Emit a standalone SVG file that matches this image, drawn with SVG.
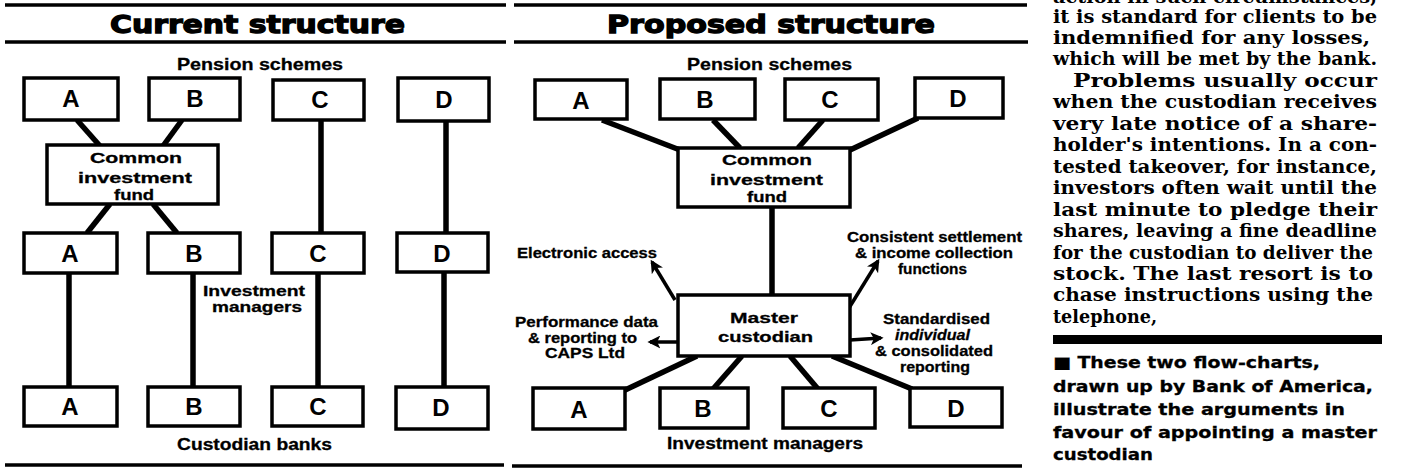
<svg xmlns="http://www.w3.org/2000/svg" width="1409" height="472" viewBox="0 0 1409 472">
<defs>
<style>
.bg{fill:#fff}
.rule{stroke:#000;stroke-width:3.5;fill:none}
.box{fill:#fff;stroke:#000;stroke-width:3.5}
.con{stroke:#000;stroke-width:5.5;fill:none;stroke-linecap:butt}
.arr{stroke:#000;stroke-width:3.5;fill:none}
.title{font-family:"DejaVu Sans","Liberation Sans",sans-serif;font-weight:bold;font-size:25px;fill:#000;stroke:#000;stroke-width:1.3}
.lbl{font-family:"Liberation Sans",Arial,sans-serif;font-weight:bold;font-size:17px;fill:#000;stroke:#000;stroke-width:0.3}
.sm{font-family:"Liberation Sans",Arial,sans-serif;font-weight:bold;font-size:15px;fill:#000;stroke:#000;stroke-width:0.3}
.let{font-family:"Liberation Sans",Arial,sans-serif;font-weight:bold;font-size:24px;fill:#000;text-anchor:middle}
.body{font-family:"DejaVu Serif","Liberation Serif",serif;font-weight:bold;font-size:18px;fill:#000}
.cap{font-family:"DejaVu Sans","Liberation Sans",sans-serif;font-weight:bold;font-size:16px;fill:#000;stroke:#000;stroke-width:0.3}
</style>
<marker id="ah" viewBox="0 0 10 10" refX="8" refY="5" markerWidth="13" markerHeight="13" markerUnits="userSpaceOnUse" orient="auto">
<path d="M0,0 L10,5 L0,10 L2.5,5 Z" fill="#000"/>
</marker>
</defs>
<rect class="bg" x="0" y="0" width="1409" height="472"/>

<!-- Current structure frame -->
<g id="current-frame">
<line class="rule" x1="5" y1="5" x2="506" y2="5"/>
<line class="rule" x1="5" y1="42" x2="506" y2="42"/>
<line class="rule" x1="5" y1="465" x2="504" y2="465"/>
<text class="title" x="110" y="33" textLength="295" lengthAdjust="spacingAndGlyphs">Current structure</text>
<text class="lbl" x="177" y="70" textLength="166" lengthAdjust="spacingAndGlyphs">Pension schemes</text>
<text class="lbl" x="177" y="450" textLength="155" lengthAdjust="spacingAndGlyphs">Custodian banks</text>
<text class="sm" x="203" y="296" textLength="102" lengthAdjust="spacingAndGlyphs">Investment</text>
<text class="sm" x="212" y="312" textLength="90" lengthAdjust="spacingAndGlyphs">managers</text>
</g>

<!-- Proposed structure frame -->
<g id="proposed-frame">
<line class="rule" x1="514" y1="5" x2="1027" y2="5"/>
<line class="rule" x1="514" y1="42" x2="1028" y2="42"/>
<line class="rule" x1="512" y1="466" x2="1022" y2="466"/>
<text class="title" x="607" y="33" textLength="328" lengthAdjust="spacingAndGlyphs">Proposed structure</text>
<text class="lbl" x="687" y="70" textLength="165" lengthAdjust="spacingAndGlyphs">Pension schemes</text>
<text class="lbl" x="667" y="449" textLength="196" lengthAdjust="spacingAndGlyphs">Investment managers</text>
</g>

<!-- Connectors -->
<g id="connectors">
<line class="con" x1="77" y1="120" x2="100" y2="146"/>
<line class="con" x1="182" y1="120" x2="163" y2="146"/>
<line class="con" x1="110" y1="204" x2="87" y2="233"/>
<line class="con" x1="153" y1="204" x2="177" y2="233"/>
<line class="con" x1="321" y1="120" x2="321" y2="233"/>
<line class="con" x1="446" y1="120" x2="446" y2="233"/>
<line class="con" x1="69" y1="273" x2="69" y2="387"/>
<line class="con" x1="193" y1="273" x2="193" y2="387"/>
<line class="con" x1="318" y1="273" x2="318" y2="387"/>
<line class="con" x1="444" y1="273" x2="444" y2="387"/>

<line class="con" x1="602" y1="120" x2="680" y2="150"/>
<line class="con" x1="713" y1="120" x2="740" y2="148"/>
<line class="con" x1="823" y1="120" x2="798" y2="148"/>
<line class="con" x1="918" y1="118" x2="850" y2="150"/>
<line class="con" x1="772" y1="207" x2="772" y2="295"/>
<line class="con" x1="697" y1="356" x2="623" y2="391"/>
<line class="con" x1="742" y1="356" x2="713" y2="389"/>
<line class="con" x1="790" y1="356" x2="818" y2="389"/>
<line class="con" x1="832" y1="356" x2="912" y2="389"/>

<line class="arr" x1="675" y1="300" x2="652" y2="262" marker-end="url(#ah)"/>
<line class="arr" x1="678" y1="342" x2="650" y2="342" marker-end="url(#ah)"/>
<line class="arr" x1="850" y1="340" x2="881" y2="338" marker-end="url(#ah)"/>
<line class="arr" x1="849" y1="308" x2="878" y2="261" marker-end="url(#ah)"/>
</g>

<!-- Current structure nodes -->
<g id="cur-pension-A"><rect class="box" x="24" y="78" width="94" height="42"/><text class="let" x="71" y="107">A</text></g>
<g id="cur-pension-B"><rect class="box" x="149" y="78" width="91" height="42"/><text class="let" x="195" y="107">B</text></g>
<g id="cur-pension-C"><rect class="box" x="273" y="80" width="91" height="40"/><text class="let" x="320" y="108">C</text></g>
<g id="cur-pension-D"><rect class="box" x="398" y="78" width="91" height="43"/><text class="let" x="444" y="108">D</text></g>

<g id="cur-fund"><rect class="box" x="47" y="145" width="171" height="59"/>
<text class="sm" x="90" y="163" textLength="92" lengthAdjust="spacingAndGlyphs">Common</text>
<text class="sm" x="78" y="183" textLength="114" lengthAdjust="spacingAndGlyphs">investment</text>
<text class="sm" x="114" y="200" textLength="40" lengthAdjust="spacingAndGlyphs">fund</text></g>

<g id="cur-manager-A"><rect class="box" x="24" y="233" width="93" height="40"/><text class="let" x="70" y="262">A</text></g>
<g id="cur-manager-B"><rect class="box" x="148" y="233" width="92" height="40"/><text class="let" x="194" y="262">B</text></g>
<g id="cur-manager-C"><rect class="box" x="272" y="233" width="92" height="40"/><text class="let" x="318" y="262">C</text></g>
<g id="cur-manager-D"><rect class="box" x="397" y="233" width="91" height="39"/><text class="let" x="442" y="262">D</text></g>

<g id="cur-bank-A"><rect class="box" x="24" y="387" width="93" height="39"/><text class="let" x="70" y="415">A</text></g>
<g id="cur-bank-B"><rect class="box" x="148" y="387" width="92" height="39"/><text class="let" x="194" y="415">B</text></g>
<g id="cur-bank-C"><rect class="box" x="272" y="387" width="91" height="39"/><text class="let" x="318" y="415">C</text></g>
<g id="cur-bank-D"><rect class="box" x="396" y="387" width="92" height="42"/><text class="let" x="441" y="416">D</text></g>

<!-- Proposed structure nodes -->
<g id="prop-pension-A"><rect class="box" x="535" y="80" width="92" height="39"/><text class="let" x="581" y="109">A</text></g>
<g id="prop-pension-B"><rect class="box" x="660" y="79" width="95" height="40"/><text class="let" x="705" y="108">B</text></g>
<g id="prop-pension-C"><rect class="box" x="785" y="79" width="93" height="41"/><text class="let" x="830" y="108">C</text></g>
<g id="prop-pension-D"><rect class="box" x="915" y="78" width="88" height="40"/><text class="let" x="958" y="107">D</text></g>

<g id="prop-fund"><rect class="box" x="678" y="148" width="172" height="59"/>
<text class="sm" x="722" y="165" textLength="90" lengthAdjust="spacingAndGlyphs">Common</text>
<text class="sm" x="710" y="185" textLength="113" lengthAdjust="spacingAndGlyphs">investment</text>
<text class="sm" x="747" y="202" textLength="40" lengthAdjust="spacingAndGlyphs">fund</text></g>

<g id="prop-master"><rect class="box" x="678" y="295" width="172" height="61"/>
<text class="sm" x="730" y="323" textLength="68" lengthAdjust="spacingAndGlyphs">Master</text>
<text class="sm" x="718" y="342" textLength="95" lengthAdjust="spacingAndGlyphs">custodian</text></g>

<g id="prop-electronic"><text class="sm" x="517" y="258" textLength="140" lengthAdjust="spacingAndGlyphs">Electronic access</text></g>
<g id="prop-performance">
<text class="sm" x="515" y="327" textLength="143" lengthAdjust="spacingAndGlyphs">Performance data</text>
<text class="sm" x="528" y="343" textLength="109" lengthAdjust="spacingAndGlyphs">&amp; reporting to</text>
<text class="sm" x="545" y="358" textLength="80" lengthAdjust="spacingAndGlyphs">CAPS Ltd</text></g>
<g id="prop-settlement">
<text class="sm" x="847" y="242" textLength="175" lengthAdjust="spacingAndGlyphs">Consistent settlement</text>
<text class="sm" x="855" y="258" textLength="158" lengthAdjust="spacingAndGlyphs">&amp; income collection</text>
<text class="sm" x="898" y="274" textLength="69" lengthAdjust="spacingAndGlyphs">functions</text></g>
<g id="prop-reporting">
<text class="sm" x="883" y="324" textLength="107" lengthAdjust="spacingAndGlyphs">Standardised</text>
<text class="sm" x="895" y="340" textLength="75" lengthAdjust="spacingAndGlyphs" font-style="italic">individual</text>
<text class="sm" x="875" y="356" textLength="118" lengthAdjust="spacingAndGlyphs">&amp; consolidated</text>
<text class="sm" x="900" y="372" textLength="70" lengthAdjust="spacingAndGlyphs">reporting</text></g>

<g id="prop-manager-A"><rect class="box" x="533" y="388" width="92" height="41"/><text class="let" x="579" y="418">A</text></g>
<g id="prop-manager-B"><rect class="box" x="660" y="388" width="88" height="40"/><text class="let" x="703" y="417">B</text></g>
<g id="prop-manager-C"><rect class="box" x="783" y="388" width="92" height="40"/><text class="let" x="829" y="417">C</text></g>
<g id="prop-manager-D"><rect class="box" x="910" y="388" width="92" height="39"/><text class="let" x="956" y="417">D</text></g>

<!-- Article text column -->
<g id="article">
<text class="body" x="1053" y="3" textLength="324" lengthAdjust="spacingAndGlyphs">action in such circumstances,</text>
<text class="body" x="1053" y="22.5" textLength="324" lengthAdjust="spacingAndGlyphs">it is standard for clients to be</text>
<text class="body" x="1053" y="44" textLength="317" lengthAdjust="spacingAndGlyphs">indemnified for any losses,</text>
<text class="body" x="1053" y="65.4" textLength="324" lengthAdjust="spacingAndGlyphs">which will be met by the bank.</text>
<text class="body" x="1073" y="86.9" textLength="304" lengthAdjust="spacingAndGlyphs">Problems usually occur</text>
<text class="body" x="1053" y="108.3" textLength="324" lengthAdjust="spacingAndGlyphs">when the custodian receives</text>
<text class="body" x="1053" y="129.8" textLength="324" lengthAdjust="spacingAndGlyphs">very late notice of a share-</text>
<text class="body" x="1053" y="151.2" textLength="324" lengthAdjust="spacingAndGlyphs">holder's intentions. In a con-</text>
<text class="body" x="1053" y="172.7" textLength="324" lengthAdjust="spacingAndGlyphs">tested takeover, for instance,</text>
<text class="body" x="1053" y="194.1" textLength="324" lengthAdjust="spacingAndGlyphs">investors often wait until the</text>
<text class="body" x="1053" y="215.6" textLength="324" lengthAdjust="spacingAndGlyphs">last minute to pledge their</text>
<text class="body" x="1053" y="237" textLength="324" lengthAdjust="spacingAndGlyphs">shares, leaving a fine deadline</text>
<text class="body" x="1053" y="258.5" textLength="320" lengthAdjust="spacingAndGlyphs">for the custodian to deliver the</text>
<text class="body" x="1053" y="280" textLength="320" lengthAdjust="spacingAndGlyphs">stock. The last resort is to</text>
<text class="body" x="1053" y="301.4" textLength="320" lengthAdjust="spacingAndGlyphs">chase instructions using the</text>
<text class="body" x="1053" y="322.9" textLength="104" lengthAdjust="spacingAndGlyphs">telephone,</text>
<rect x="1053" y="335" width="329" height="9" fill="#000"/>
<text class="cap" x="1053" y="368" textLength="267" lengthAdjust="spacingAndGlyphs">■ These two flow-charts,</text>
<text class="cap" x="1053" y="392" textLength="320" lengthAdjust="spacingAndGlyphs">drawn up by Bank of America,</text>
<text class="cap" x="1053" y="415" textLength="292" lengthAdjust="spacingAndGlyphs">illustrate the arguments in</text>
<text class="cap" x="1053" y="438" textLength="324" lengthAdjust="spacingAndGlyphs">favour of appointing a master</text>
<text class="cap" x="1053" y="460" textLength="100" lengthAdjust="spacingAndGlyphs">custodian</text>
</g>
</svg>
